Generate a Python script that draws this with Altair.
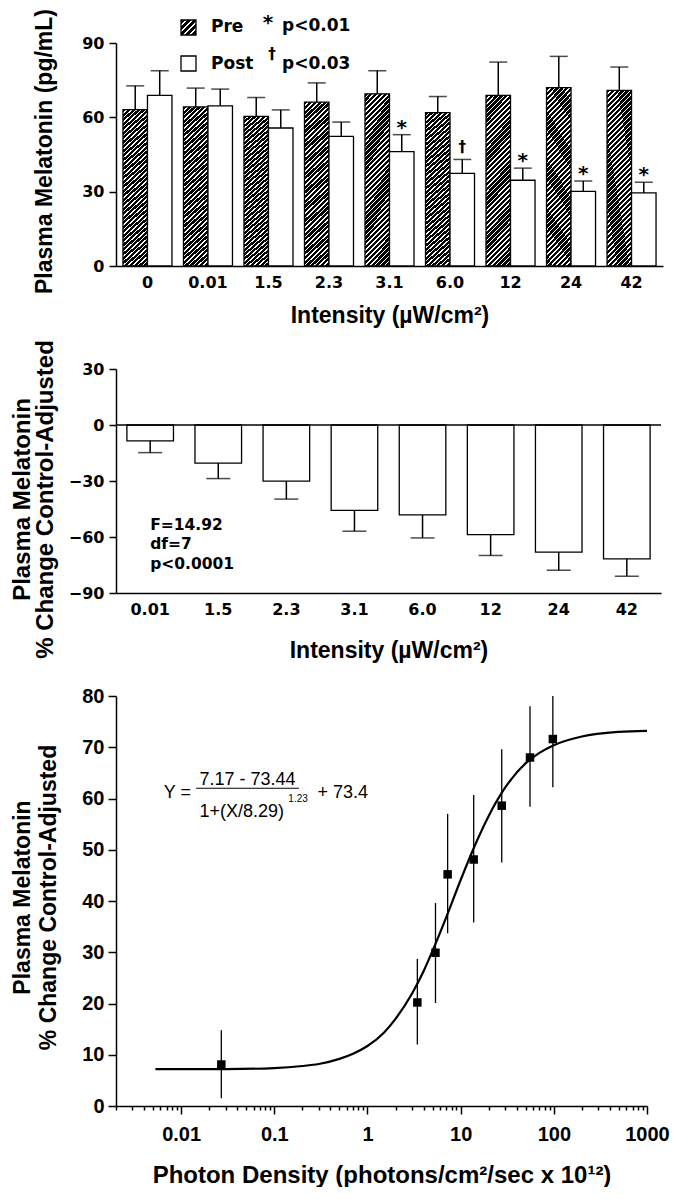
import altair as alt
import pandas as pd

# ---------------- top panel: plasma melatonin pre / post ----------------
intensity_top = ["0", "0.01", "1.5", "2.3", "3.1", "6.0", "12", "24", "42"]
pre_mean = [63.1, 64.2, 60.4, 66.1, 69.5, 61.9, 68.9, 72.0, 70.9]
pre_err = [72.7, 71.8, 68.0, 73.9, 78.8, 68.4, 82.3, 84.6, 80.3]
post_mean = [68.9, 64.6, 55.7, 52.3, 46.2, 37.4, 34.6, 30.1, 29.5]
post_err = [78.8, 71.4, 63.0, 58.1, 53.0, 43.0, 39.5, 34.3, 33.8]
post_sig = ["", "", "", "", "*", "†", "*", "*", "*"]

# ---------------- middle panel: % change control-adjusted ----------------
intensity_mid = ["0.01", "1.5", "2.3", "3.1", "6.0", "12", "24", "42"]
change_mean = [-8.5, -20.4, -30.1, -45.7, -48.2, -58.7, -68.1, -71.7]
change_err = [-14.8, -28.7, -39.7, -56.9, -60.5, -69.9, -77.8, -81.0]
stats_lines = ["F=14.92", "df=7", "p<0.0001"]
stats_y = [-53.5, -64.0, -74.5]

# ---------------- bottom panel: photon density response ----------------
photon = [0.027, 3.43, 5.37, 7.25, 13.8, 27.6, 55.5, 97.6]
pct = [8.1, 20.2, 29.9, 45.2, 48.1, 58.6, 68.0, 71.6]
pct_hi = [14.8, 28.7, 39.6, 57.0, 60.7, 69.6, 78.0, 80.0]
pct_lo = [1.5, 12.0, 20.1, 33.7, 35.8, 47.5, 58.4, 62.2]
curve_x = [0.0053, 0.01, 0.03, 0.1, 0.2, 0.3, 0.5, 0.7, 1, 1.5, 2, 3, 4, 5, 7,
           10, 15, 20, 30, 50, 70, 100, 200, 500, 1000]
curve_y = [7.2, 7.2, 7.2, 7.4, 7.8, 8.2, 9.2, 10.2, 11.7, 14.3, 17.0, 21.9, 26.3,
           30.3, 36.8, 44.1, 51.8, 56.6, 62.1, 66.9, 68.9, 70.4, 72.1, 73.0, 73.2]

BOLD_WIDE = "DejaVu Sans"
ARIAL = "Liberation Sans"


def hatch(ratio, n, white=0.32):
    stops = []
    for i in range(n):
        b = (i + 1 - white) / n
        stops += [{"offset": i / n, "color": "#000000"}, {"offset": b, "color": "#000000"},
                  {"offset": b, "color": "#ffffff"}, {"offset": (i + 1) / n, "color": "#ffffff"}]
    c = (1 + ratio) / (1 + ratio ** 2)
    return {"gradient": "linear", "x1": 0, "y1": 0, "x2": ratio * c, "y2": c, "stops": stops}


bar_hatch = hatch(0.145, 40)
legend_hatch = hatch(1.0, 5)

one = pd.DataFrame({"k": [0]})


def ylabel_axis(**kw):
    base = dict(labelColor="black", tickColor="black", domainColor="black",
                titleColor="black", tickWidth=1.5, domainWidth=1.5, grid=False,
                titleFontWeight="bold", labelFontWeight="bold")
    base.update(kw)
    return alt.Axis(**base)


def txt(s, x, y, **kw):
    return alt.Chart(one).mark_text(text=s, **kw).encode(x=alt.value(x), y=alt.value(y))


# ---------------- top panel ----------------
top_df = pd.DataFrame({
    "intensity": intensity_top * 2,
    "phase": ["Pre"] * 9 + ["Post"] * 9,
    "mean": pre_mean + post_mean,
    "err": pre_err + post_err,
    "sig": [""] * 9 + post_sig,
})

x_top = alt.X("intensity:N", sort=intensity_top,
              scale=alt.Scale(domain=intensity_top, paddingInner=0.19, paddingOuter=0.115),
              axis=ylabel_axis(title="Intensity (µW/cm²)", titleFont=ARIAL, titleFontSize=23,
                               titlePadding=14, labelFont=BOLD_WIDE, labelFontSize=16,
                               labelPadding=8, ticks=False, labelAngle=0))
xo_top = alt.XOffset("phase:N", scale=alt.Scale(domain=["Pre", "Post"], paddingInner=0, paddingOuter=0))
y_top = alt.Y("mean:Q", scale=alt.Scale(domain=[0, 90], nice=False),
              axis=ylabel_axis(values=[0, 30, 60, 90], title="Plasma Melatonin (pg/mL)",
                               titleFont=ARIAL, titleFontSize=23, titlePadding=25, titleY=108,
                               labelFont=BOLD_WIDE, labelFontSize=16, labelPadding=5, tickSize=7))

tbase = alt.Chart(top_df).encode(x=x_top, xOffset=xo_top)
pre_bars = tbase.transform_filter("datum.phase == 'Pre'").mark_bar(
    fill=bar_hatch, stroke="black", strokeWidth=1.3).encode(y=y_top)
post_bars = tbase.transform_filter("datum.phase == 'Post'").mark_bar(
    fill="white", stroke="black", strokeWidth=1.3).encode(y=y_top)
top_rules = tbase.mark_rule(color="black", strokeWidth=1.5).encode(y="mean:Q", y2="err:Q")
top_caps = tbase.mark_tick(color="black", size=18, thickness=1.5, orient="horizontal").encode(y="err:Q")
stars = tbase.transform_filter("datum.sig == '*'").mark_text(
    font=BOLD_WIDE, fontWeight="bold", fontSize=20, baseline="alphabetic", dy=-1, color="black"
).encode(y="err:Q", text="sig:N")
daggers = tbase.transform_filter("datum.sig == '†'").mark_text(
    font=BOLD_WIDE, fontWeight="bold", fontSize=15, baseline="alphabetic", dy=-7, color="black"
).encode(y="err:Q", text="sig:N")

leg_pre_box = alt.Chart(one).mark_rect(fill=legend_hatch, stroke="black", strokeWidth=1.3).encode(
    x=alt.value(65), x2=alt.value(80), y=alt.value(-23), y2=alt.value(-8))
leg_post_box = alt.Chart(one).mark_rect(fill="white", stroke="black", strokeWidth=1.3).encode(
    x=alt.value(65), x2=alt.value(80), y=alt.value(13), y2=alt.value(28))
legend_kw = dict(font=BOLD_WIDE, fontWeight="bold", fontSize=17, align="left", baseline="middle", color="black")
leg_texts = [
    txt("Pre", 95, -16, **legend_kw),
    txt("Post", 95, 21, **legend_kw),
    txt("p<0.01", 166, -17, **legend_kw),
    txt("p<0.03", 166, 21, **legend_kw),
    txt("*", 152, -14, font=BOLD_WIDE, fontWeight="bold", fontSize=20, align="center",
        baseline="alphabetic", color="black"),
    txt("†", 156, 16, font=BOLD_WIDE, fontWeight="bold", fontSize=15, align="center",
        baseline="alphabetic", color="black"),
]

top = alt.layer(pre_bars, post_bars, top_rules, top_caps, stars, daggers,
                leg_pre_box, leg_post_box, *leg_texts).properties(width=547, height=223)

# ---------------- middle panel ----------------
mid_df = pd.DataFrame({"intensity": intensity_mid, "mean": change_mean, "err": change_err})
stats_df = pd.DataFrame({"line": stats_lines, "y": stats_y, "intensity": [intensity_mid[0]] * 3})

x_mid = alt.X("intensity:N", sort=intensity_mid,
              scale=alt.Scale(domain=intensity_mid, paddingInner=0.316, paddingOuter=0.16),
              axis=ylabel_axis(title="Intensity (µW/cm²)", titleFont=ARIAL, titleFontSize=23,
                               titlePadding=22, labelFont=BOLD_WIDE, labelFontSize=16,
                               labelPadding=8, ticks=False, labelAngle=0))
y_mid = alt.Y("mean:Q", scale=alt.Scale(domain=[-90, 30], nice=False),
              axis=ylabel_axis(values=[-90, -60, -30, 0, 30],
                               title=["Plasma Melatonin", "% Change Control-Adjusted"],
                               titleFont=ARIAL, titleFontSize=24, titleLineHeight=23,
                               titlePadding=11, titleY=130,
                               labelFont=BOLD_WIDE, labelFontSize=16, labelPadding=5, tickSize=7))

mbase = alt.Chart(mid_df).encode(x=x_mid)
mid_bars = mbase.mark_bar(fill="white", stroke="black", strokeWidth=1.3).encode(y=y_mid)
mid_rules = mbase.mark_rule(color="black", strokeWidth=1.5).encode(y="mean:Q", y2="err:Q")
mid_caps = mbase.mark_tick(color="black", size=24, thickness=1.5, orient="horizontal").encode(y="err:Q")
zero_line = alt.Chart(one).mark_rule(color="black", strokeWidth=1.5).encode(y=alt.datum(0))
stats = alt.Chart(stats_df).mark_text(font=BOLD_WIDE, fontWeight="bold", fontSize=15.5,
                                      align="left", baseline="middle", color="black").encode(
    x=alt.X("intensity:N", sort=intensity_mid), y="y:Q", text="line:N")

mid = alt.layer(mid_bars, zero_line, mid_rules, mid_caps, stats).properties(width=545, height=224)

# ---------------- bottom panel ----------------
pts_df = pd.DataFrame({"x": photon, "y": pct, "lo": pct_lo, "hi": pct_hi})
curve_df = pd.DataFrame({"x": curve_x, "y": curve_y})

x_ticks = [m * 10.0 ** e for e in range(-3, 3) for m in range(1, 10) if m * 10.0 ** e >= 0.002] + [1000.0]
decade = "abs(log(datum.value)/LN10 - round(log(datum.value)/LN10)) < 1e-6"

x_bot = alt.X("x:Q", scale=alt.Scale(type="log", domain=[0.002, 1000], nice=False),
              axis=alt.Axis(values=x_ticks, format=".2~f",
                            labelExpr=f"{decade} ? datum.label : ''",
                            tickSize={"condition": {"test": decade, "value": 8}, "value": 4},
                            title="Photon Density (photons/cm²/sec x 10¹²)",
                            titleFont=ARIAL, titleFontSize=24, titleFontWeight="bold", titleColor="black",
                            titlePadding=19, labelFont=ARIAL, labelFontSize=20, labelFontWeight="bold",
                            labelColor="black", labelPadding=10, labelOverlap=False, labelFlush=False,
                            tickColor="black", tickWidth=1.5, domainColor="black", domainWidth=1.5,
                            grid=False))
y_bot = alt.Y("y:Q", scale=alt.Scale(domain=[0, 80], nice=False),
              axis=alt.Axis(values=list(range(0, 81, 5)),
                            labelExpr="datum.value % 10 == 0 ? datum.label : ''",
                            tickSize={"condition": {"test": "datum.value % 10 == 0", "value": 8}, "value": 4},
                            title=["Plasma Melatonin", "% Change Control-Adjusted"],
                            titleFont=ARIAL, titleFontSize=23, titleFontWeight="bold", titleColor="black",
                            titleLineHeight=26, titlePadding=21, titleY=201,
                            labelFont=ARIAL, labelFontSize=20, labelFontWeight="bold", labelColor="black",
                            labelPadding=4, labelOverlap=False,
                            tickColor="black", tickWidth=1.5, domainColor="black", domainWidth=1.5,
                            grid=False))

curve = alt.Chart(curve_df).mark_line(color="black", strokeWidth=2.2, interpolate="monotone").encode(
    x=x_bot, y=y_bot)
errs = alt.Chart(pts_df).mark_rule(color="black", strokeWidth=1.3).encode(x="x:Q", y="lo:Q", y2="hi:Q")
pts = alt.Chart(pts_df).mark_square(color="black", opacity=1, size=72).encode(x="x:Q", y="y:Q")

eq_font = dict(font=ARIAL, color="black")
eq_df = pd.DataFrame({
    "t": ["Y =", "7.17 - 73.44", "1+(X/8.29)", "1.23", "+ 73.4"],
    "x": [0.0065, 0.0515, 0.0448, 0.18, 0.29],
    "y": [61.0, 62.6, 57.4, 60.0, 61.0],
})
eq_y = eq_df.iloc[[0]]
eq_num = eq_df.iloc[[1]]
eq_den = eq_df.iloc[[2]]
eq_sup = eq_df.iloc[[3]]
eq_plus = eq_df.iloc[[4]]
frac_df = pd.DataFrame({"x": [0.0145], "x2": [0.184], "y": [62.0]})

eq_layers = [
    alt.Chart(eq_y).mark_text(fontSize=18, align="left", baseline="middle", **eq_font).encode(x="x:Q", y="y:Q", text="t:N"),
    alt.Chart(eq_num).mark_text(fontSize=18, align="center", baseline="alphabetic", **eq_font).encode(x="x:Q", y="y:Q", text="t:N"),
    alt.Chart(eq_den).mark_text(fontSize=18, align="center", baseline="middle", **eq_font).encode(x="x:Q", y="y:Q", text="t:N"),
    alt.Chart(eq_sup).mark_text(fontSize=10, align="center", baseline="middle", **eq_font).encode(x="x:Q", y="y:Q", text="t:N"),
    alt.Chart(eq_plus).mark_text(fontSize=18, align="left", baseline="middle", **eq_font).encode(x="x:Q", y="y:Q", text="t:N"),
    alt.Chart(frac_df).mark_rule(color="black", strokeWidth=1.2).encode(x="x:Q", x2="x2:Q", y="y:Q"),
]

bottom = alt.layer(curve, errs, pts, *eq_layers).properties(width=531, height=410)

chart = alt.vconcat(top, mid, bottom, spacing=103, bounds="flush").properties(
    padding={"left": 2, "top": 0, "right": 0, "bottom": 0}
).configure_view(stroke=None)

chart.save("out.html", embed_options={"renderer": "svg", "actions": False})
